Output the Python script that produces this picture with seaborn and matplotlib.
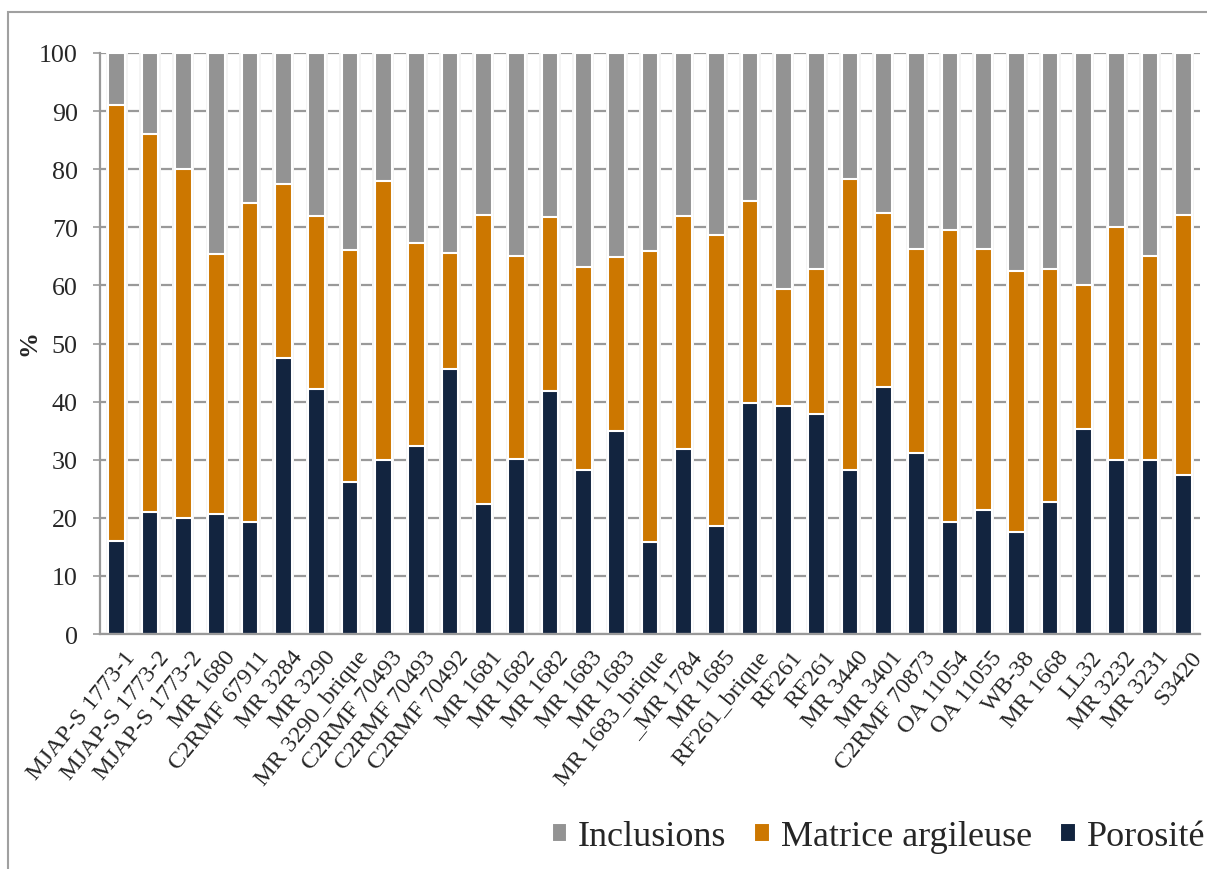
# Composition des échantillons : porosité / matrice argileuse / inclusions
import numpy as np
import pandas as pd
import seaborn as sns
import matplotlib.pyplot as plt
import matplotlib.transforms as mtransforms
from matplotlib.patches import Rectangle

samples = [
    "MJAP-S 1773-1", "MJAP-S 1773-2", "MJAP-S 1773-2", "MR 1680", "C2RMF 67911",
    "MR 3284", "MR 3290", "MR 3290_brique", "C2RMF 70493", "C2RMF 70493",
    "C2RMF 70492", "MR 1681", "MR 1682", "MR 1682", "MR 1683", "MR 1683",
    "MR 1683_brique", "_MR 1784", "MR 1685", "RF261_brique", "RF261", "RF261",
    "MR 3440", "MR 3401", "C2RMF 70873", "OA 11054", "OA 11055", "WB-38",
    "MR 1668", "LL32", "MR 3232", "MR 3231", "S3420",
]
porosite = [16, 21, 20, 20.6, 19.2, 47.5, 42.2, 26.1, 30, 32.3, 45.6, 22.3, 30.2,
            41.8, 28.2, 34.9, 15.9, 31.9, 18.6, 39.7, 39.2, 37.9, 28.3, 42.5, 31.2,
            19.3, 21.4, 17.5, 22.8, 35.3, 30, 30, 27.3]
matrice = [75, 65, 60, 44.8, 55, 30, 29.8, 40, 48, 35, 19.9, 49.8, 34.9, 29.9, 35,
           30, 50, 40, 50, 34.9, 20.1, 25, 50, 30, 35.1, 50.2, 44.9, 45, 40, 24.8,
           40, 35, 44.8]
inclusions = [9, 14, 20, 34.6, 25.8, 22.5, 28, 33.9, 22, 32.7, 34.5, 27.9, 34.9,
              28.3, 36.8, 35.1, 34.1, 28.1, 31.4, 25.4, 40.7, 37.1, 21.7, 27.5, 33.7,
              30.5, 33.7, 37.5, 37.2, 39.9, 30, 35, 27.9]

c_incl = "#939393"
c_mat = "#CC7700"
c_por = "#12243F"

df = pd.DataFrame({"idx": range(len(samples)), "por": porosite,
                   "mat": matrice, "incl": inclusions})
df["top_mat"] = df["por"] + df["mat"]
df["top_incl"] = df["top_mat"] + df["incl"]

sns.set_style("white")
plt.rcParams["font.family"] = ["Liberation Serif", "DejaVu Serif"]

fig = plt.figure(figsize=(12.07, 8.70), dpi=100)
ax = fig.add_axes([100 / 1207, 1 - 635 / 870, 1100 / 1207, 581 / 870])

ax.yaxis.grid(True, color="#999999", linewidth=1.6)
ax.set_axisbelow(True)

# léger halo autour des barres (effet d'ombre Excel)
sns.barplot(data=df, x="idx", y="top_incl", width=0.66, saturation=1,
            color="#f4f4f4", linewidth=0, ax=ax)

bar_kw = dict(x="idx", width=0.5, saturation=1, edgecolor="white",
              linewidth=1.5, ax=ax)
sns.barplot(data=df, y="top_incl", color=c_incl, label="Inclusions", **bar_kw)
sns.barplot(data=df, y="top_mat", color=c_mat, label="Matrice argileuse", **bar_kw)
sns.barplot(data=df, y="por", color=c_por, label="Porosité", **bar_kw)

ax.set_xlim(-0.5, len(samples) - 0.5)
ax.set_ylim(0, 100)
ax.set_yticks(np.arange(0, 101, 10))
ax.tick_params(axis="y", labelsize=18.7, length=5, width=1.2, color="#999999",
               pad=11, left=True)

ax.set_xticks(range(len(samples)))
ax.set_xticklabels(samples, rotation=51, ha="right", rotation_mode="anchor",
                   fontsize=17.5)
ax.tick_params(axis="x", length=0, pad=9)
shift = mtransforms.ScaledTranslation(7 / 100, 0, fig.dpi_scale_trans)
for lab in ax.get_xticklabels():
    lab.set_transform(lab.get_transform() + shift)
ax.set_xticks(np.arange(-0.5, len(samples)), minor=True)
ax.tick_params(axis="x", which="minor", length=5, width=1.2, color="#999999")
ax.set_xlabel("")
ax.set_ylabel("")

fig.text(29 / 1207, 1 - 343 / 870, "%", rotation=90, ha="center", va="center",
         fontsize=18.7, fontweight="bold")

for side in ["top", "right"]:
    ax.spines[side].set_visible(False)
for side in ["left", "bottom"]:
    ax.spines[side].set_color("#999999")
    ax.spines[side].set_linewidth(1.6)

handles, labels = ax.get_legend_handles_labels()
leg = ax.legend(handles[-3:], labels[-3:], loc="center right",
                bbox_to_anchor=(1205 / 1207, 1 - 838 / 870),
                bbox_transform=fig.transFigure, ncol=3, frameon=False,
                fontsize=26, handlelength=0.43, handleheight=0.43,
                handletextpad=0.3, columnspacing=0.78, borderaxespad=0,
                borderpad=0)

# cadre de la zone graphique
fig.patches.append(Rectangle((8 / 1207, -0.1), 1.2, 1 - 13 / 870 + 0.1,
                             transform=fig.transFigure, fill=False,
                             edgecolor="#a0a0a0", linewidth=1.5))

fig.savefig("out.png", dpi=100)
